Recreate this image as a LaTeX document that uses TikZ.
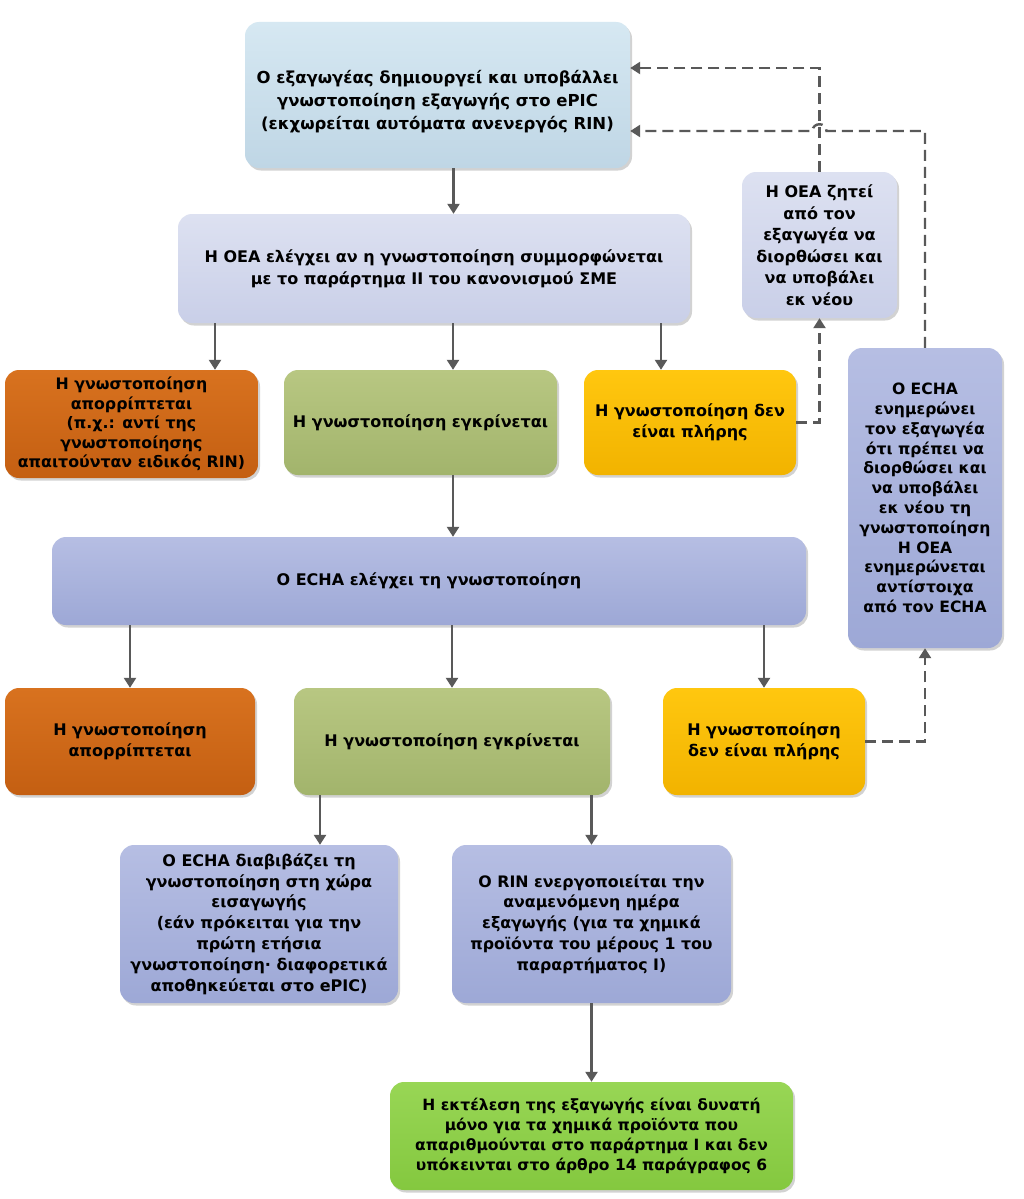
\documentclass[tikz,border=0pt]{standalone}
\usepackage{fontspec}
\setmainfont{DejaVu Sans}
\usetikzlibrary{arrows.meta,shadows}
\definecolor{MyLightBlue}{HTML}{D6E8F2}
\definecolor{MyLightBlueB}{HTML}{BFD6E5}
\definecolor{MyLilac}{HTML}{DDE1F1}
\definecolor{MyLilacB}{HTML}{C9CFE8}
\definecolor{MyPeri}{HTML}{B6BEE3}
\definecolor{MyPeriB}{HTML}{9DA8D6}
\definecolor{MyOrange}{HTML}{D8721F}
\definecolor{MyOrangeB}{HTML}{C45F12}
\definecolor{MyOlive}{HTML}{B8C782}
\definecolor{MyOliveB}{HTML}{A2B46C}
\definecolor{MyAmber}{HTML}{FFC70F}
\definecolor{MyAmberB}{HTML}{F2B300}
\definecolor{MyGreen}{HTML}{98D655}
\definecolor{MyGreenB}{HTML}{84C83F}
\definecolor{MyGray}{HTML}{595959}

\tikzset{
  box/.style={rounded corners=14pt, align=center, inner sep=1pt,
    font=\fontsize{16}{21.5}\selectfont\bfseries,
    drop shadow={shadow xshift=2pt, shadow yshift=-2.5pt, opacity=0.35}},
  blue/.style={box, top color=MyLightBlue, bottom color=MyLightBlueB},
  lilac/.style={box, top color=MyLilac, bottom color=MyLilacB},
  peri/.style={box, top color=MyPeri, bottom color=MyPeriB},
  orange/.style={box, top color=MyOrange, bottom color=MyOrangeB},
  olive/.style={box, top color=MyOlive, bottom color=MyOliveB},
  amber/.style={box, top color=MyAmber, bottom color=MyAmberB},
  green/.style={box, top color=MyGreen, bottom color=MyGreenB},
  arr/.style={draw=MyGray, line width=2.4pt, -{Triangle[width=12pt,length=10pt]}},
  dsh/.style={arr, dash pattern=on 11pt off 6pt}
}

\begin{document}
\begin{tikzpicture}[x=1pt,y=-1pt]
        \useasboundingbox[fill=white] (0,0) rectangle (1024,1199);

        % first row
        \node[blue, minimum width=385pt, minimum height=146pt, font=\fontsize{16.5}{23}\selectfont\bfseries] (top) at (437.5,95)
            {\rule{0pt}{27pt}Ο εξαγωγέας δημιουργεί και υποβάλλει\\γνωστοποίηση εξαγωγής στο ePIC\\(εκχωρείται αυτόματα ανενεργός RIN)};
        \node[lilac, minimum width=512pt, minimum height=109pt, font=\fontsize{16}{22}\selectfont\bfseries] (oea) at (434,268.5)
            {Η ΟΕΑ ελέγχει αν η γνωστοποίηση συμμορφώνεται\\με το παράρτημα ΙΙ του κανονισμού ΣΜΕ};
        \node[lilac, minimum width=155pt, minimum height=146pt] (req) at (819.5,245)
            {Η ΟΕΑ ζητεί\\από τον\\εξαγωγέα να\\διορθώσει και\\να υποβάλει\\εκ νέου};

        % answers of the OEA
        \node[orange, minimum width=253pt, minimum height=108pt, font=\fontsize{15.8}{19.5}\selectfont\bfseries] (rej1) at (131.5,424)
            {Η γνωστοποίηση\\απορρίπτεται\\(π.χ.: αντί της\\γνωστοποίησης\\απαιτούνταν ειδικός RIN)};
        \node[olive, minimum width=273pt, minimum height=105pt] (app1) at (420.5,422.5)
            {Η γνωστοποίηση εγκρίνεται};
        \node[amber, minimum width=212pt, minimum height=105pt] (inc1) at (690,422.5)
            {Η γνωστοποίηση δεν\\είναι πλήρης};
        \node[peri, minimum width=154pt, minimum height=300pt, font=\fontsize{15.6}{19.8}\selectfont\bfseries] (inf) at (925,498)
            {Ο ECHA\\ενημερώνει\\τον εξαγωγέα\\ότι πρέπει να\\διορθώσει και\\να υποβάλει\\εκ νέου τη\\γνωστοποίηση\\Η ΟΕΑ\\ενημερώνεται\\αντίστοιχα\\από τον ECHA};

        % ECHA
        \node[peri, minimum width=754pt, minimum height=88pt] (echa) at (429,581)
            {Ο ECHA ελέγχει τη γνωστοποίηση};
        \node[orange, minimum width=250pt, minimum height=107pt] (rej2) at (130,741.5)
            {Η γνωστοποίηση\\απορρίπτεται};
        \node[olive, minimum width=316pt, minimum height=107pt] (app2) at (452,741.5)
            {Η γνωστοποίηση εγκρίνεται};
        \node[amber, minimum width=202pt, minimum height=107pt] (inc2) at (764,741.5)
            {Η γνωστοποίηση\\δεν είναι πλήρης};

        % last rows
        \node[peri, minimum width=278pt, minimum height=158pt, font=\fontsize{16}{20.8}\selectfont\bfseries] (fwd) at (259,924)
            {Ο ECHA διαβιβάζει τη\\γνωστοποίηση στη χώρα\\εισαγωγής\\(εάν πρόκειται για την\\πρώτη ετήσια\\γνωστοποίηση· διαφορετικά\\αποθηκεύεται στο ePIC)};
        \node[peri, minimum width=279pt, minimum height=158pt, font=\fontsize{15.8}{20.8}\selectfont\bfseries] (rin) at (591.5,924)
            {Ο RIN ενεργοποιείται την\\αναμενόμενη ημέρα\\εξαγωγής (για τα χημικά\\προϊόντα του μέρους 1 του\\παραρτήματος Ι)};
        \node[green, minimum width=403pt, minimum height=108pt, font=\fontsize{15.5}{20}\selectfont\bfseries] (fin) at (591.5,1136)
            {Η εκτέλεση της εξαγωγής είναι δυνατή\\μόνο για τα χημικά προϊόντα που\\απαριθμούνται στο παράρτημα Ι και δεν\\υπόκεινται στο άρθρο 14 παράγραφος 6};

        % solid arrows
        \draw[arr] ([xshift=16pt]top.south) -- ([xshift=16pt]top.south |- oea.north);
        \draw[arr] ([xshift=83.5pt]rej1.north |- oea.south) -- ([xshift=83.5pt]rej1.north);
        \draw[arr] ([xshift=32.5pt]app1.north |- oea.south) -- ([xshift=32.5pt]app1.north);
        \draw[arr] ([xshift=-29pt]inc1.north |- oea.south) -- ([xshift=-29pt]inc1.north);
        \draw[arr] ([xshift=32.5pt]app1.south) -- ([xshift=32.5pt]app1.south |- echa.north);
        \draw[arr] (rej2.north |- echa.south) -- (rej2.north);
        \draw[arr] (app2.north |- echa.south) -- (app2.north);
        \draw[arr] (inc2.north |- echa.south) -- (inc2.north);
        \draw[arr] ([xshift=61pt]fwd.north |- app2.south) -- ([xshift=61pt]fwd.north);
        \draw[arr] (rin.north |- app2.south) -- (rin.north);
        \draw[arr] (rin.south) -- (fin.north);

        % dashed arrows back
        \coordinate (back1) at ([yshift=27pt]top.east);
        \coordinate (back2) at ([yshift=-36pt]top.east);
        \draw[dsh] (inc1.east) -| (req.south);
        \draw[dsh] (req.north) |- (back1);
        \draw[dsh] (inc2.east) -| (inf.south);
        \draw[dsh] (inf.north) |- ([xshift=7pt]req.north |- back2)
            .. controls +(0,-9) and +(0,-9) .. ([xshift=-7pt]req.north |- back2) -- (back2);
    \end{tikzpicture}
\end{document}
